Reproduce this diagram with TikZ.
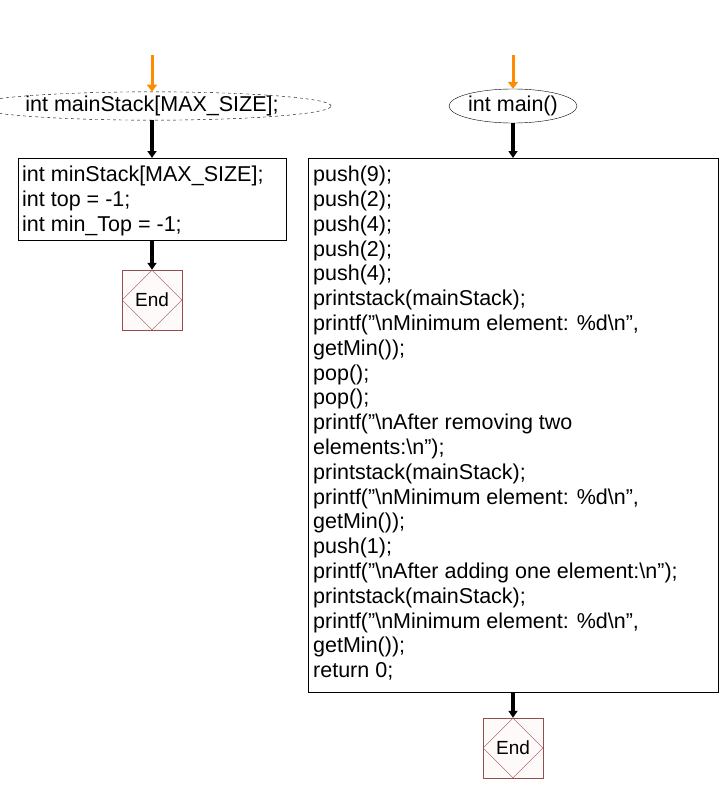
\documentclass[tikz,border=0pt]{standalone}
\usepackage{fontspec}
\setmainfont{Liberation Sans}
\usetikzlibrary{shapes.geometric,arrows.meta}
\begin{document}
\begin{tikzpicture}[x=1pt,y=-1pt,
  txt/.style={font=\fontsize{21.5}{24.8}\selectfont},
  term/.style={draw,ellipse,inner sep=0pt,txt},
  box/.style={draw,thick,rectangle,anchor=north west,inner sep=0pt},
  code/.style={align=left,anchor=north west,inner sep=0pt,txt},
  endbox/.style={draw=red!40!black!70,fill=red!2,minimum width=60pt,minimum height=60pt,inner sep=0pt},
  dia/.style={draw=red!40!black!70,diamond,minimum width=60pt,minimum height=60pt,inner sep=0pt,font=\fontsize{19}{22}\selectfont},
  orange/.style={draw=orange!90!yellow,line width=3pt,-{Triangle[length=7pt,width=10pt]}},
  flow/.style={line width=3.5pt,-{Triangle[length=7pt,width=9pt]}}]
\useasboundingbox (0,0) rectangle (720,806);
% left
\coordinate (ls) at (152,55);
\node[term,dashed,minimum width=290pt,minimum height=28pt] (le) at (152,106) {int mainStack[MAX\_SIZE];};
\node[box,minimum width=268pt,minimum height=82pt] (lb) at (18,158) {};
\node[code] (lt) at (22,166) {int minStack[MAX\_SIZE];\\int top = -1;\\int min\_Top = -1;};
\node[endbox] (lend) at (152,300) {};
\node[dia] (ld) at (152,300) {End};
\draw[orange] (ls) -- (le.north);
\draw[flow] (le.south) -- (lb.north -| le.south);
\draw[flow] (lb.south -| le.south) -- (lend.north);
% right
\coordinate (rs) at (513,55);
\node[term,minimum width=128pt,minimum height=34pt] (re) at (513,106) {int main()};
\node[box,minimum width=410pt,minimum height=534pt] (rb) at (308,158) {};
\node[code] (rt) at (313,166) {push(9);\\push(2);\\push(4);\\push(2);\\push(4);\\printstack(mainStack);\\printf("\textbackslash nMinimum element: \%d\textbackslash n",\\getMin());\\pop();\\pop();\\printf("\textbackslash nAfter removing two\\elements:\textbackslash n");\\printstack(mainStack);\\printf("\textbackslash nMinimum element: \%d\textbackslash n",\\getMin());\\push(1);\\printf("\textbackslash nAfter adding one element:\textbackslash n");\\printstack(mainStack);\\printf("\textbackslash nMinimum element: \%d\textbackslash n",\\getMin());\\return 0;};
\node[endbox] (rend) at (513,748) {};
\node[dia] (rd) at (513,748) {End};
\draw[orange] (rs) -- (re.north);
\draw[flow] (re.south) -- (rb.north -| re.south);
\draw[flow] (rb.south -| re.south) -- (rend.north);
\end{tikzpicture}
\end{document}
